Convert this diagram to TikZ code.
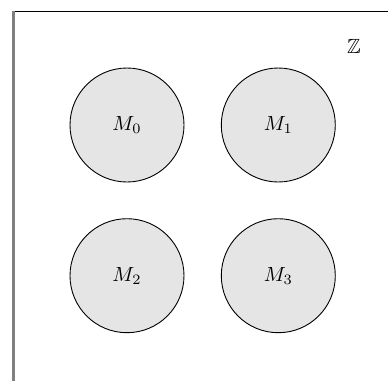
\documentclass[tikz,border=0pt]{standalone}
\usepackage{amssymb}
\usepackage{graphicx}
\newcommand{\bigtxt}[1]{\scalebox{2.05}{#1}}
\begin{document}
\begin{tikzpicture}[x=1pt,y=-1pt,
  setcirc/.style={circle,draw=black,line width=0.9pt,fill=black!10,minimum size=114pt,inner sep=0pt},
  lbl/.style={inner sep=0pt}]
\useasboundingbox (0,0) rectangle (388,381);
\coordinate (tl) at (13.5,11);
\coordinate (tr) at (388,11);
\coordinate (bl) at (13.5,381);
\draw[black,line width=1pt] (tl) -- (tr);
\draw[black!50,line width=2.2pt] (tl) -- (bl);
\node[setcirc] (m0) at (127,125) {\bigtxt{$M_0$}};
\node[setcirc] (m1) at (278.3,125) {\bigtxt{$M_1$}};
\node[setcirc] (m2) at (127,275.7) {\bigtxt{$M_2$}};
\node[setcirc] (m3) at (278.3,275.7) {\bigtxt{$M_3$}};
\node[lbl] (z) at (354,46.5) {\bigtxt{$\mathbb{Z}$}};
\end{tikzpicture}
\end{document}
